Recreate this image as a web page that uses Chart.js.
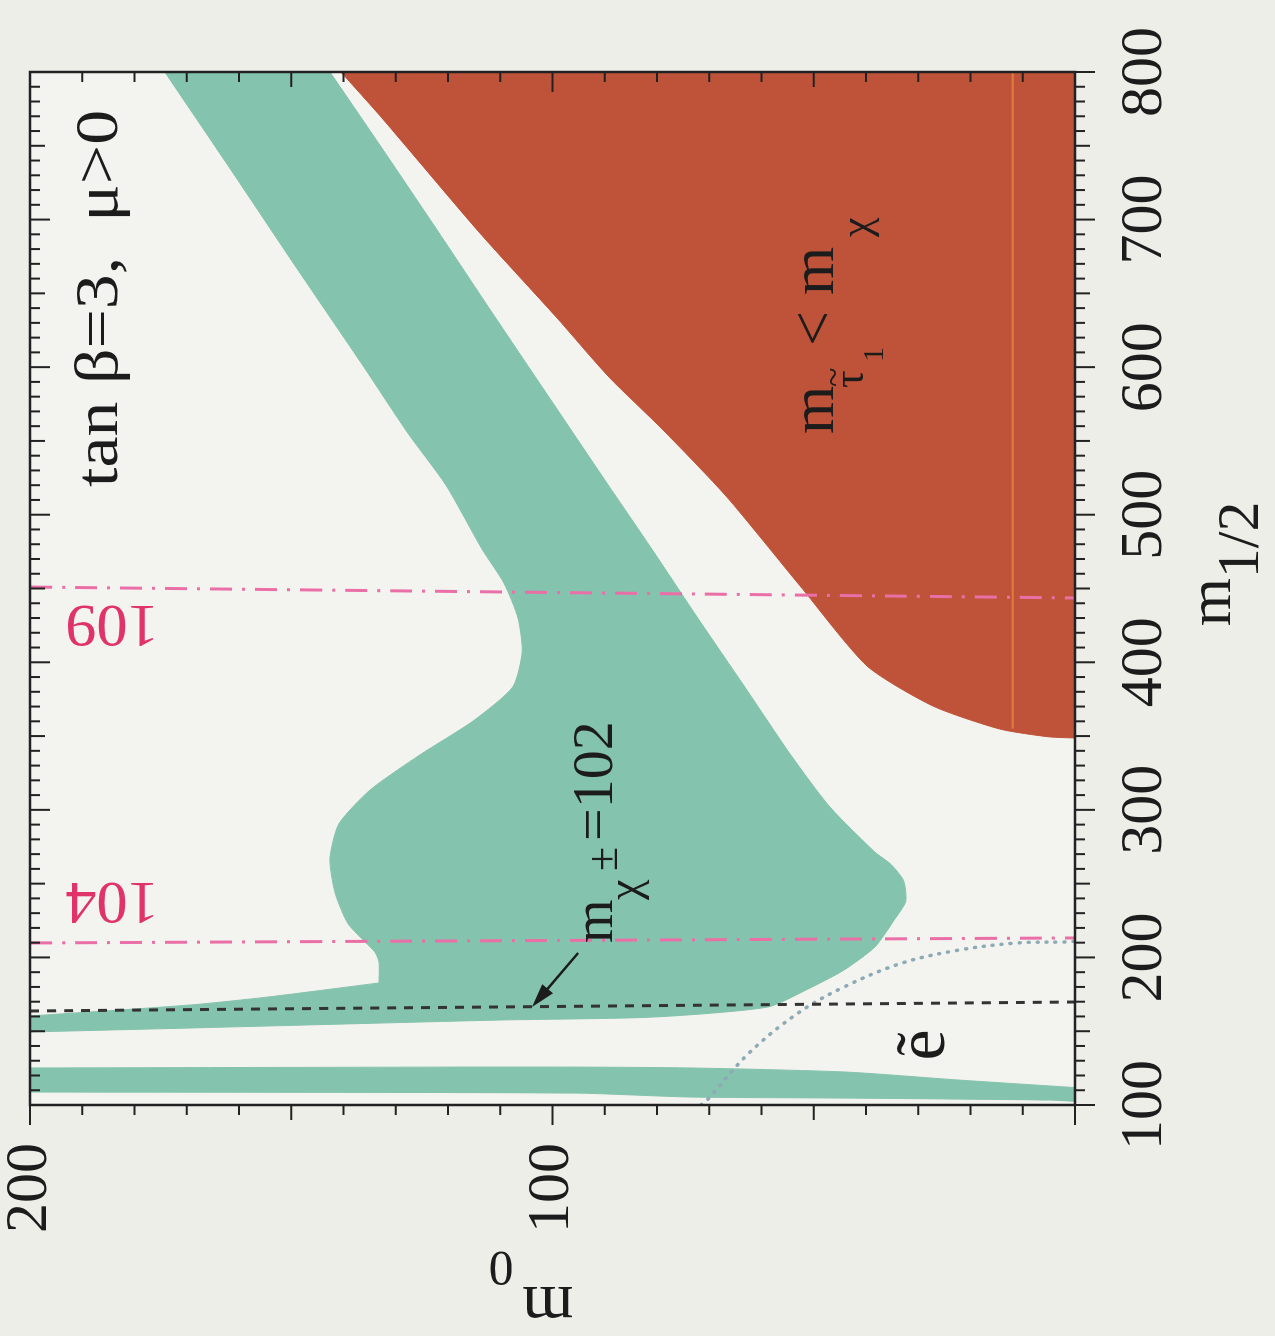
<!DOCTYPE html>
<html><head><meta charset="utf-8">
<script src="https://cdn.jsdelivr.net/npm/chart.js@4.4.0/dist/chart.umd.min.js"></script>
<style>
html,body{margin:0;padding:0;background:#eeeee9;}
#wrap{position:relative;width:1275px;height:1336px;overflow:hidden;background:#eeeee9;}
#c{position:absolute;left:0;top:0;width:1336px;height:1275px;transform-origin:0 0;transform:translate(0px,1336px) rotate(-90deg);}
</style></head>
<body><div id="wrap"><canvas id="c" width="1336" height="1275"></canvas></div>
<script>
// ---- axis ticks ----
const m12Ticks = [100, 200, 300, 400, 500, 600, 700, 800];
const m0Ticks = [0, 100, 200];

// ---- green (cosmologically preferred) region, main band: m1/2 and m0 ----
const greenBandM12 = [800, 800, 735.6, 667.9, 600.1, 555.4, 520.1, 476.8, 453.7, 430.0, 407.0, 383.3, 360.2, 337.2, 313.5, 290.4, 266.7, 243.7, 222.7, 203.7, 196.9, 182.7, 182.7, 173.2, 167.8, 160.3, 160.3, 149.5, 149.5, 152.5, 155.6, 157.6, 159.6, 166.4, 177.9, 191.5, 207.1, 225.4, 238.0, 252.0, 263.0, 271.4, 301.9, 337.2, 383.3, 430.0, 476.8, 521.5, 577.7, 634.0, 690.9, 747.1, 800, 800];
const greenBandM0  = [174.2, 174.2, 161.9, 149.1, 136.1, 127.7, 120.4, 113.5, 109.3, 106.6, 105.8, 107.6, 115.2, 125.4, 134.9, 140.9, 142.6, 141.6, 139.1, 134.0, 133.2, 133.2, 133.2, 154.4, 169.2, 200, 200, 200, 200, 166, 132.4, 110.0, 80.8, 58.8, 51.5, 44.2, 38.3, 34.6, 32.4, 32.8, 35.2, 38.3, 46.9, 54.4, 63.2, 72.2, 81.0, 89.6, 100.3, 111.0, 121.7, 132.4, 142.6, 142.6];

// ---- green strip at low m1/2 ----
const greenStripM12 = [125.1, 125.1, 125.7, 125.7, 125.1, 122.4, 116.9, 112.2, 111.8, 111.8, 102.5, 102.5, 103.4, 104.7, 105.4, 108.1, 108.8, 108.8];
const greenStripM0  = [200, 200, 120, 95.9, 73.5, 44.2, 22.2, 1.7, 0, 0, 0, 0, 5, 44.2, 73.5, 95.9, 200, 200];

// ---- red region: m_stau < m_chi ----
const redM12 = [800, 800, 769.5, 690.9, 634.0, 593.3, 558.0, 512.7, 451.7, 397.5, 370.4, 354.8, 349.5, 348.7, 348.7, 800, 800];
const redM0  = [140.5, 140.5, 132.8, 113.9, 99.3, 89.2, 79.0, 66.8, 52.6, 39.8, 27.2, 14.4, 5, 0, 0, 0, 0];

// ---- contour lines ----
const stauLineM12 = [355, 800];
const stauLineM0  = [11.9, 11.9];
const higgs104M12 = [209.8, 213.2];
const higgs104M0  = [200, 0];
const higgs109M12 = [451.0, 443.6];
const higgs109M0  = [200, 0];
const charginoM12 = [163.7, 169.8];
const charginoM0  = [200, 0];
const selectronM12 = [100, 103.4, 135.2, 162.3, 180.0, 196.2, 205.0, 209.8, 210.5, 211];
const selectronM0  = [71.6, 70.4, 62.4, 53.0, 44.2, 33.1, 22.2, 11.1, 1.7, 0];

const zip = (a, b) => a.map((v, i) => ({x: v, y: b[i]}));

const GREEN = '#84c3ad', RED = '#bf533a', INK = '#1c1c1c', PINK = '#ea6fa6', PINKTXT = '#e0336a';
const SERIF = '"Liberation Serif", "Times New Roman", serif';

function region(data, color) {
  return {data, showLine: true, fill: 'shape', backgroundColor: color, borderColor: color,
          borderWidth: 1, pointRadius: 0, tension: 0.22, order: 5};
}
function contour(data, color, width, dash, cap) {
  return {data, showLine: true, fill: false, borderColor: color, borderWidth: width,
          borderDash: dash, borderCapStyle: cap || 'butt', pointRadius: 0, tension: 0.35, order: 1};
}

const bgPlugin = {
  id: 'bg',
  beforeDraw(chart) {
    const {ctx, chartArea: a} = chart;
    ctx.save();
    ctx.fillStyle = '#eeeee9';
    ctx.fillRect(0, 0, chart.width, chart.height);
    ctx.fillStyle = '#f3f3ef';
    ctx.fillRect(a.left, a.top, a.right - a.left, a.bottom - a.top);
    ctx.restore();
  }
};

function runs(ctx, x, y, parts, rot, align) {
  ctx.save();
  ctx.translate(x, y);
  if (rot) ctx.rotate(rot);
  ctx.textBaseline = 'alphabetic';
  ctx.textAlign = align || 'left';
  for (const p of parts) {
    ctx.font = `${p.s}px ${SERIF}`;
    ctx.fillStyle = p.c || INK;
    ctx.fillText(p.t, p.dx || 0, p.dy || 0);
  }
  ctx.restore();
}

const framePlugin = {
  id: 'frame',
  afterDraw(chart) {
    const {ctx, chartArea: a} = chart;
    const xs = chart.scales.x, ys = chart.scales.y;
    ctx.save();
    ctx.strokeStyle = '#222';
    ctx.lineWidth = 2;
    ctx.beginPath();
    for (let v = 100; v <= 800; v += 10) {
      const p = xs.getPixelForValue(v);
      const L = v % 100 === 0 ? 20 : (v % 50 === 0 ? 15 : 10);
      ctx.moveTo(p, a.bottom); ctx.lineTo(p, a.bottom + L);
      ctx.moveTo(p, a.top); ctx.lineTo(p, a.top + L);
    }
    for (let v = 0; v <= 200; v += 10) {
      const p = ys.getPixelForValue(v);
      const L = v % 100 === 0 ? 20 : (v % 50 === 0 ? 15 : 10);
      ctx.moveTo(a.left, p); ctx.lineTo(a.left - L, p);
      ctx.moveTo(a.right, p); ctx.lineTo(a.right - L, p);
    }
    ctx.stroke();
    ctx.lineWidth = 2.5;
    ctx.strokeRect(a.left, a.top, a.right - a.left, a.bottom - a.top);
    ctx.restore();

    const X = v => xs.getPixelForValue(v), Y = v => ys.getPixelForValue(v);

    // arrow to chargino line
    const tx = X(203), ty = Y(95.1), hx = X(166.4), hy = Y(103.9);
    ctx.save();
    ctx.strokeStyle = INK; ctx.fillStyle = INK; ctx.lineWidth = 2.5;
    const ang = Math.atan2(hy - ty, hx - tx);
    ctx.beginPath(); ctx.moveTo(tx, ty); ctx.lineTo(hx - 18 * Math.cos(ang), hy - 18 * Math.sin(ang)); ctx.stroke();
    ctx.beginPath();
    ctx.moveTo(hx, hy);
    ctx.lineTo(hx - 24 * Math.cos(ang) + 7 * Math.sin(ang), hy - 24 * Math.sin(ang) - 7 * Math.cos(ang));
    ctx.lineTo(hx - 24 * Math.cos(ang) - 7 * Math.sin(ang), hy - 24 * Math.sin(ang) + 7 * Math.cos(ang));
    ctx.closePath(); ctx.fill();
    ctx.restore();

    // tan beta label (fitted to its width)
    ctx.save();
    ctx.font = `62px ${SERIF}`;
    const tb = 'tan β=3,  μ>0';
    const w = ctx.measureText(tb).width;
    const x0 = X(518.8), x1 = X(774.3);
    ctx.translate(x0, Y(183.3));
    ctx.scale((x1 - x0) / w, 1);
    ctx.fillStyle = INK; ctx.textBaseline = 'alphabetic';
    ctx.fillText(tb, 0, 0);
    ctx.restore();

    // chargino label
    runs(ctx, X(209.8), Y(88.6), [
      {t: 'm', s: 56, dx: 0},
      {t: 'χ', s: 46, dx: 43, dy: 27},
      {t: '±', s: 44, dx: 72, dy: 5},
      {t: '=102', s: 58, dx: 102}
    ]);

    // stau label
    runs(ctx, X(554.7), Y(46.3), [
      {t: 'm', s: 62, dx: 0},
      {t: 'τ', s: 44, dx: 46, dy: 30},
      {t: '~', s: 36, dx: 47, dy: 12},
      {t: '1', s: 30, dx: 72, dy: 50},
      {t: '<', s: 62, dx: 88},
      {t: 'm', s: 62, dx: 139},
      {t: 'χ', s: 44, dx: 197, dy: 37}
    ]);

    // selectron label
    runs(ctx, X(140.7), Y(25.1), [{t: 'ẽ', s: 70}], 0, 'center');

    // Higgs mass labels
    ctx.save();
    ctx.fillStyle = PINKTXT; ctx.font = `62px ${SERIF}`;
    ctx.textAlign = 'center'; ctx.textBaseline = 'middle';
    for (const [m12, txt] of [[424.6, '109'], [236.9, '104']]) {
      ctx.save(); ctx.translate(X(m12), Y(184.3)); ctx.rotate(-Math.PI / 2);
      ctx.fillText(txt, 0, 4); ctx.restore();
    }
    ctx.restore();

    // axis titles
    runs(ctx, a.left - 182, Y(96.0), [
      {t: 'm', s: 66, dx: 0},
      {t: '0', s: 50, dx: 60, dy: 35}
    ], -Math.PI / 2);
    runs(ctx, X(424.5), a.bottom + 155, [
      {t: 'm', s: 62, dx: 0},
      {t: '1/2', s: 60, dx: 48, dy: 28}
    ]);
  }
};

const chart = new Chart(document.getElementById('c'), {
  type: 'scatter',
  data: {
    datasets: [
      contour(zip(higgs104M12, higgs104M0), PINK, 3, [22, 10, 3, 10]),
      contour(zip(higgs109M12, higgs109M0), PINK, 3, [22, 10, 3, 10]),
      contour(zip(charginoM12, charginoM0), '#333', 3, [9, 8]),
      contour(zip(selectronM12, selectronM0), '#8eaab5', 3.5, [1, 8], 'round'),
      contour(zip(stauLineM12, stauLineM0), '#e07b3e', 2, []),
      region(zip(redM12, redM0), RED),
      region(zip(greenBandM12, greenBandM0), GREEN),
      region(zip(greenStripM12, greenStripM0), GREEN)
    ]
  },
  options: {
    responsive: false, animation: false, devicePixelRatio: 1,
    layout: {padding: {top: 30, right: 72, left: 0, bottom: 0}},
    plugins: {legend: {display: false}, tooltip: {enabled: false}},
    scales: {
      x: {
        type: 'linear', position: 'bottom', min: 100, max: 800,
        title: {display: false, text: 'm1/2'},
        ticks: {stepSize: 100, autoSkip: false, maxRotation: 0, minRotation: 0, padding: 34,
                color: INK, font: {family: SERIF, size: 60}},
        grid: {display: false, drawTicks: false}, border: {display: false},
        afterBuildTicks: s => { s.ticks = m12Ticks.map(v => ({value: v})); },
        afterFit: s => { s.height = 200; s.paddingLeft = 0; s.paddingRight = 0; }
      },
      y: {
        type: 'linear', position: 'left', min: 0, max: 200,
        title: {display: false, text: 'm0'},
        ticks: {stepSize: 100, autoSkip: false, padding: 38, color: INK,
                font: {family: SERIF, size: 60}, callback: v => (v === 0 ? '' : String(v))},
        grid: {display: false, drawTicks: false}, border: {display: false},
        afterBuildTicks: s => { s.ticks = m0Ticks.map(v => ({value: v})); },
        afterFit: s => { s.width = 231; s.paddingTop = 0; s.paddingBottom = 0; }
      }
    }
  },
  plugins: [bgPlugin, framePlugin]
});
</script>
</body></html>
